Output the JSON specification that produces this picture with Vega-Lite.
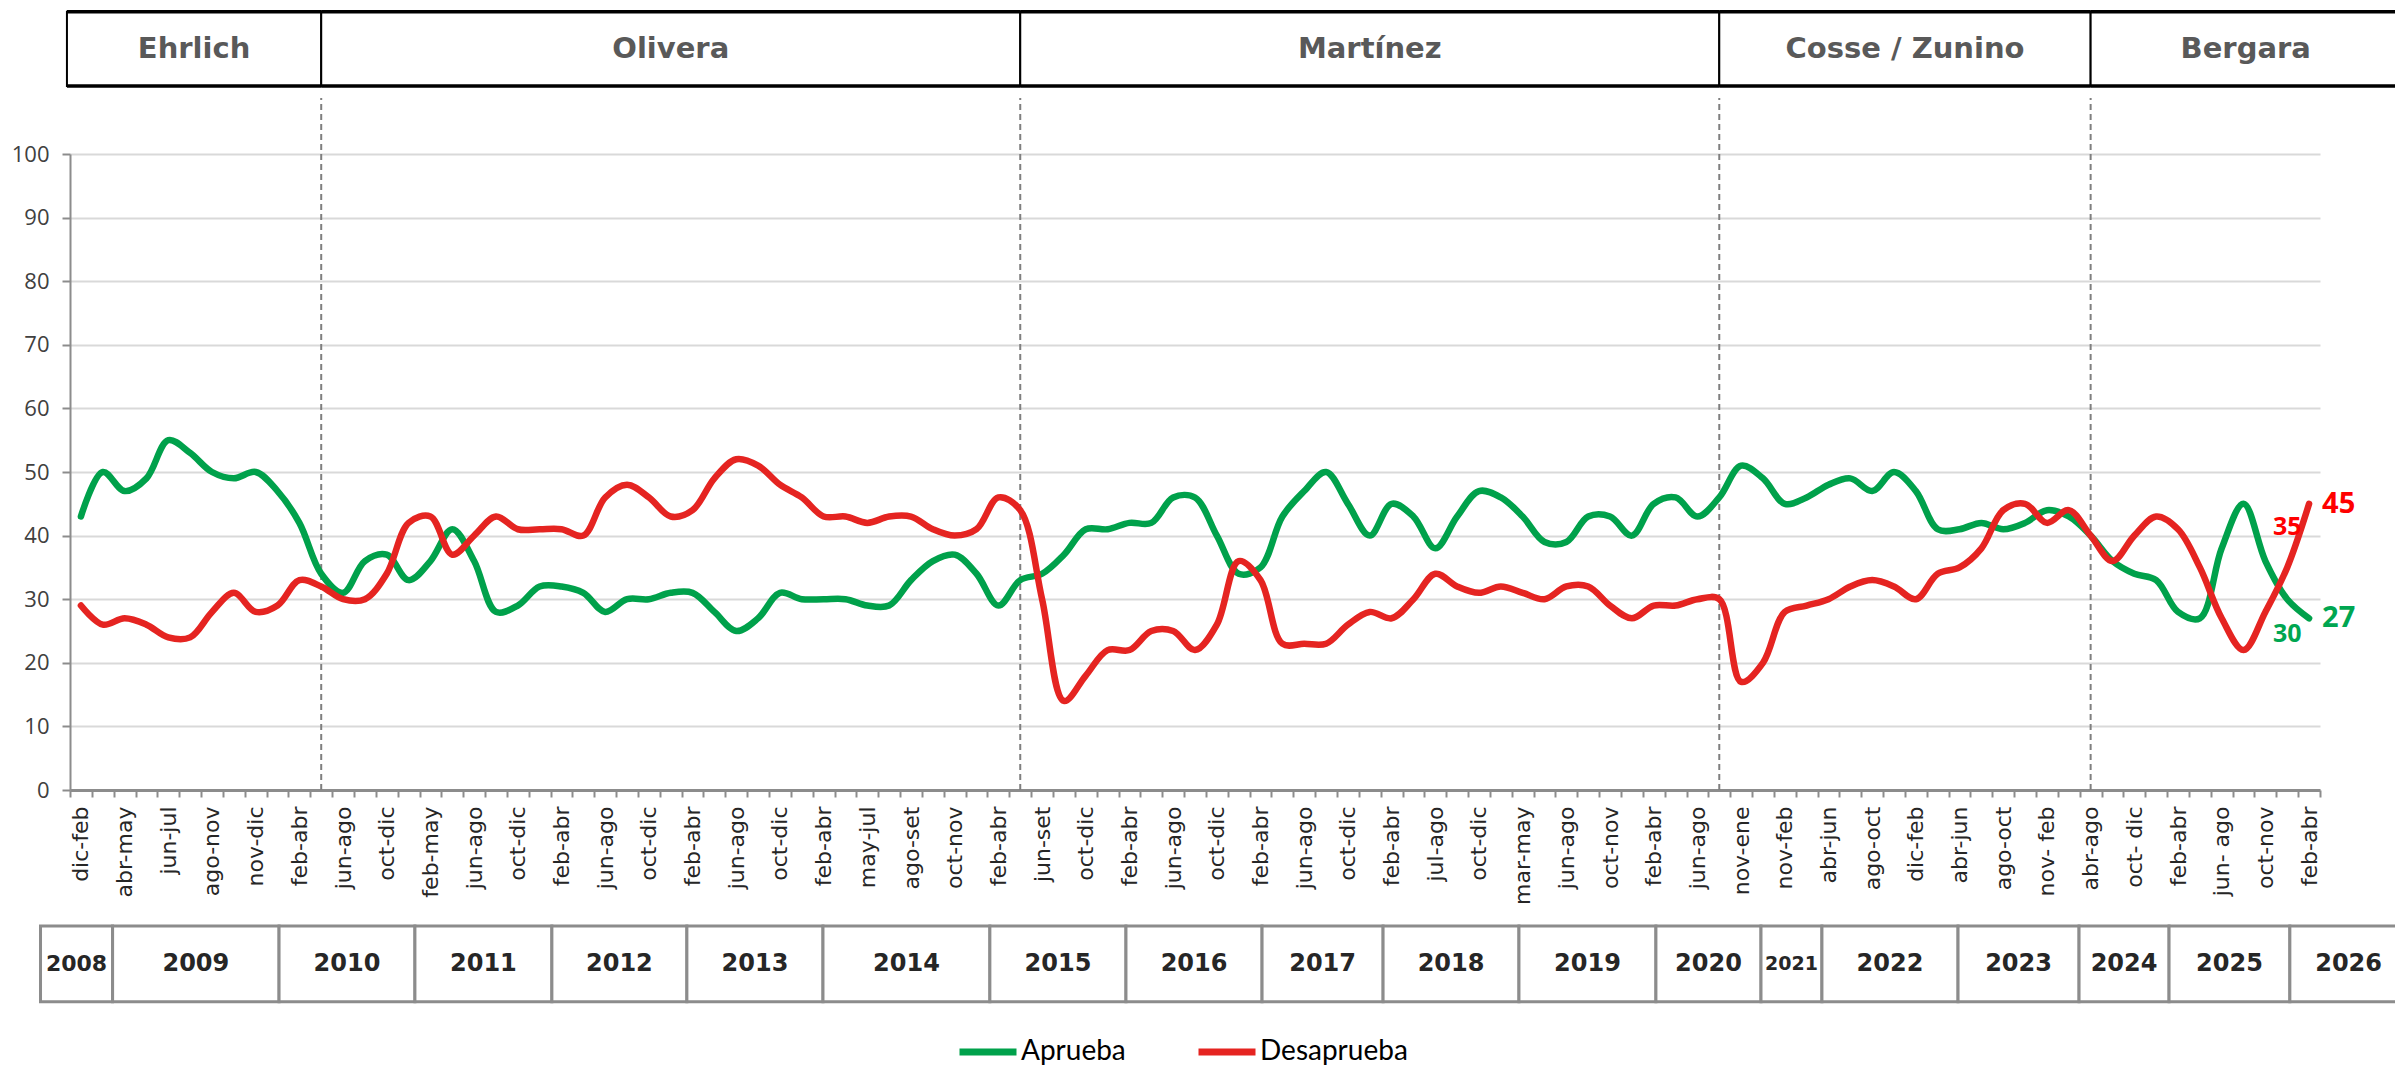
{
  "$schema": "https://vega.github.io/schema/vega-lite/v6.json",
  "autosize": "none",
  "padding": {"left": 70, "top": 154, "right": 75, "bottom": 278},
  "width": 2250,
  "height": 636,
  "background": "white",
  "config": {"view": {"stroke": null}, "font": "Open Sans"},
  "datasets": {
    "sondeo": [
      {"key": "000|dic-feb", "Aprueba": 43, "Desaprueba": 29},
      {"key": "001|", "Aprueba": 50, "Desaprueba": 26},
      {"key": "002|abr-may", "Aprueba": 47, "Desaprueba": 27},
      {"key": "003|", "Aprueba": 49, "Desaprueba": 26},
      {"key": "004|jun-jul", "Aprueba": 55, "Desaprueba": 24},
      {"key": "005|", "Aprueba": 53, "Desaprueba": 24},
      {"key": "006|ago-nov", "Aprueba": 50, "Desaprueba": 28},
      {"key": "007|", "Aprueba": 49, "Desaprueba": 31},
      {"key": "008|nov-dic", "Aprueba": 50, "Desaprueba": 28},
      {"key": "009|", "Aprueba": 47, "Desaprueba": 29},
      {"key": "010|feb-abr", "Aprueba": 42, "Desaprueba": 33},
      {"key": "011|", "Aprueba": 34, "Desaprueba": 32},
      {"key": "012|jun-ago", "Aprueba": 31, "Desaprueba": 30},
      {"key": "013|", "Aprueba": 36, "Desaprueba": 30},
      {"key": "014|oct-dic", "Aprueba": 37, "Desaprueba": 34},
      {"key": "015|", "Aprueba": 33, "Desaprueba": 42},
      {"key": "016|feb-may", "Aprueba": 36, "Desaprueba": 43},
      {"key": "017|", "Aprueba": 41, "Desaprueba": 37},
      {"key": "018|jun-ago", "Aprueba": 36, "Desaprueba": 40},
      {"key": "019|", "Aprueba": 28, "Desaprueba": 43},
      {"key": "020|oct-dic", "Aprueba": 29, "Desaprueba": 41},
      {"key": "021|", "Aprueba": 32, "Desaprueba": 41},
      {"key": "022|feb-abr", "Aprueba": 32, "Desaprueba": 41},
      {"key": "023|", "Aprueba": 31, "Desaprueba": 40},
      {"key": "024|jun-ago", "Aprueba": 28, "Desaprueba": 46},
      {"key": "025|", "Aprueba": 30, "Desaprueba": 48},
      {"key": "026|oct-dic", "Aprueba": 30, "Desaprueba": 46},
      {"key": "027|", "Aprueba": 31, "Desaprueba": 43},
      {"key": "028|feb-abr", "Aprueba": 31, "Desaprueba": 44},
      {"key": "029|", "Aprueba": 28, "Desaprueba": 49},
      {"key": "030|jun-ago", "Aprueba": 25, "Desaprueba": 52},
      {"key": "031|", "Aprueba": 27, "Desaprueba": 51},
      {"key": "032|oct-dic", "Aprueba": 31, "Desaprueba": 48},
      {"key": "033|", "Aprueba": 30, "Desaprueba": 46},
      {"key": "034|feb-abr", "Aprueba": 30, "Desaprueba": 43},
      {"key": "035|", "Aprueba": 30, "Desaprueba": 43},
      {"key": "036|may-jul", "Aprueba": 29, "Desaprueba": 42},
      {"key": "037|", "Aprueba": 29, "Desaprueba": 43},
      {"key": "038|ago-set", "Aprueba": 33, "Desaprueba": 43},
      {"key": "039|", "Aprueba": 36, "Desaprueba": 41},
      {"key": "040|oct-nov", "Aprueba": 37, "Desaprueba": 40},
      {"key": "041|", "Aprueba": 34, "Desaprueba": 41},
      {"key": "042|feb-abr", "Aprueba": 29, "Desaprueba": 46},
      {"key": "043|", "Aprueba": 33, "Desaprueba": 44},
      {"key": "044|jun-set", "Aprueba": 34, "Desaprueba": 30},
      {"key": "045|", "Aprueba": 37, "Desaprueba": 14},
      {"key": "046|oct-dic", "Aprueba": 41, "Desaprueba": 18},
      {"key": "047|", "Aprueba": 41, "Desaprueba": 22},
      {"key": "048|feb-abr", "Aprueba": 42, "Desaprueba": 22},
      {"key": "049|", "Aprueba": 42, "Desaprueba": 25},
      {"key": "050|jun-ago", "Aprueba": 46, "Desaprueba": 25},
      {"key": "051|", "Aprueba": 46, "Desaprueba": 22},
      {"key": "052|oct-dic", "Aprueba": 40, "Desaprueba": 26},
      {"key": "053|", "Aprueba": 34, "Desaprueba": 36},
      {"key": "054|feb-abr", "Aprueba": 35, "Desaprueba": 33},
      {"key": "055|", "Aprueba": 43, "Desaprueba": 23},
      {"key": "056|jun-ago", "Aprueba": 47, "Desaprueba": 23},
      {"key": "057|", "Aprueba": 50, "Desaprueba": 23},
      {"key": "058|oct-dic", "Aprueba": 45, "Desaprueba": 26},
      {"key": "059|", "Aprueba": 40, "Desaprueba": 28},
      {"key": "060|feb-abr", "Aprueba": 45, "Desaprueba": 27},
      {"key": "061|", "Aprueba": 43, "Desaprueba": 30},
      {"key": "062|jul-ago", "Aprueba": 38, "Desaprueba": 34},
      {"key": "063|", "Aprueba": 43, "Desaprueba": 32},
      {"key": "064|oct-dic", "Aprueba": 47, "Desaprueba": 31},
      {"key": "065|", "Aprueba": 46, "Desaprueba": 32},
      {"key": "066|mar-may", "Aprueba": 43, "Desaprueba": 31},
      {"key": "067|", "Aprueba": 39, "Desaprueba": 30},
      {"key": "068|jun-ago", "Aprueba": 39, "Desaprueba": 32},
      {"key": "069|", "Aprueba": 43, "Desaprueba": 32},
      {"key": "070|oct-nov", "Aprueba": 43, "Desaprueba": 29},
      {"key": "071|", "Aprueba": 40, "Desaprueba": 27},
      {"key": "072|feb-abr", "Aprueba": 45, "Desaprueba": 29},
      {"key": "073|", "Aprueba": 46, "Desaprueba": 29},
      {"key": "074|jun-ago", "Aprueba": 43, "Desaprueba": 30},
      {"key": "075|", "Aprueba": 46, "Desaprueba": 30},
      {"key": "076|nov-ene", "Aprueba": 51, "Desaprueba": 17},
      {"key": "077|", "Aprueba": 49, "Desaprueba": 20},
      {"key": "078|nov-feb", "Aprueba": 45, "Desaprueba": 28},
      {"key": "079|", "Aprueba": 46, "Desaprueba": 29},
      {"key": "080|abr-jun", "Aprueba": 48, "Desaprueba": 30},
      {"key": "081|", "Aprueba": 49, "Desaprueba": 32},
      {"key": "082|ago-oct", "Aprueba": 47, "Desaprueba": 33},
      {"key": "083|", "Aprueba": 50, "Desaprueba": 32},
      {"key": "084|dic-feb", "Aprueba": 47, "Desaprueba": 30},
      {"key": "085|", "Aprueba": 41, "Desaprueba": 34},
      {"key": "086|abr-jun", "Aprueba": 41, "Desaprueba": 35},
      {"key": "087|", "Aprueba": 42, "Desaprueba": 38},
      {"key": "088|ago-oct", "Aprueba": 41, "Desaprueba": 44},
      {"key": "089|", "Aprueba": 42, "Desaprueba": 45},
      {"key": "090|nov- feb", "Aprueba": 44, "Desaprueba": 42},
      {"key": "091|", "Aprueba": 43, "Desaprueba": 44},
      {"key": "092|abr-ago", "Aprueba": 40, "Desaprueba": 40},
      {"key": "093|", "Aprueba": 36, "Desaprueba": 36},
      {"key": "094|oct- dic", "Aprueba": 34, "Desaprueba": 40},
      {"key": "095|", "Aprueba": 33, "Desaprueba": 43},
      {"key": "096|feb-abr", "Aprueba": 28, "Desaprueba": 41},
      {"key": "097|", "Aprueba": 27, "Desaprueba": 35},
      {"key": "098|jun- ago", "Aprueba": 38, "Desaprueba": 27},
      {"key": "099|", "Aprueba": 45, "Desaprueba": 22},
      {"key": "100|oct-nov", "Aprueba": 36, "Desaprueba": 28},
      {"key": "101|", "Aprueba": 30, "Desaprueba": 35},
      {"key": "102|feb-abr", "Aprueba": 27, "Desaprueba": 45}
    ],
    "intendentes": [
      {"nombre": "Ehrlich", "inicio": -0.64, "fin": 11},
      {"nombre": "Olivera", "inicio": 11, "fin": 43},
      {"nombre": "Martínez", "inicio": 43, "fin": 75},
      {"nombre": "Cosse / Zunino", "inicio": 75, "fin": 92},
      {"nombre": "Bergara", "inicio": 92, "fin": 106.2}
    ],
    "anios": [
      {"anio": "2008", "inicio": -1.85, "fin": 1.45},
      {"anio": "2009", "inicio": 1.45, "fin": 9.07},
      {"anio": "2010", "inicio": 9.07, "fin": 15.29},
      {"anio": "2011", "inicio": 15.29, "fin": 21.56},
      {"anio": "2012", "inicio": 21.56, "fin": 27.74},
      {"anio": "2013", "inicio": 27.74, "fin": 33.97},
      {"anio": "2014", "inicio": 33.97, "fin": 41.61},
      {"anio": "2015", "inicio": 41.61, "fin": 47.84},
      {"anio": "2016", "inicio": 47.84, "fin": 54.07},
      {"anio": "2017", "inicio": 54.07, "fin": 59.61},
      {"anio": "2018", "inicio": 59.61, "fin": 65.83},
      {"anio": "2019", "inicio": 65.83, "fin": 72.1},
      {"anio": "2020", "inicio": 72.1, "fin": 76.91},
      {"anio": "2021", "inicio": 76.91, "fin": 79.7},
      {"anio": "2022", "inicio": 79.7, "fin": 85.93},
      {"anio": "2023", "inicio": 85.93, "fin": 91.47},
      {"anio": "2024", "inicio": 91.47, "fin": 95.59},
      {"anio": "2025", "inicio": 95.59, "fin": 101.12},
      {"anio": "2026", "inicio": 101.12, "fin": 106.5}
    ]
  },
  "layer": [
    {
      "data": {"name": "intendentes"},
      "transform": [{"calculate": "(datum.inicio + datum.fin) / 2", "as": "centro"}],
      "layer": [
        {
          "mark": {"type": "rect", "fill": "white", "stroke": "black", "strokeWidth": 2},
          "encoding": {
            "x": {"field": "inicio", "type": "quantitative", "scale": {"domain": [-0.5, 102.5], "nice": false, "zero": false}, "axis": null},
            "x2": {"field": "fin"},
            "y": {"datum": 110.69, "type": "quantitative", "scale": {"domain": [0, 100], "nice": false, "zero": false}, "axis": null},
            "y2": {"datum": 122.37}
          }
        },
        {
          "mark": {"type": "rule", "color": "black", "strokeWidth": 3.5},
          "encoding": {
            "x": {"field": "inicio", "type": "quantitative"},
            "x2": {"field": "fin"},
            "y": {"datum": 122.37, "type": "quantitative"}
          }
        },
        {
          "mark": {"type": "rule", "color": "black", "strokeWidth": 3.5},
          "encoding": {
            "x": {"field": "inicio", "type": "quantitative"},
            "x2": {"field": "fin"},
            "y": {"datum": 110.69, "type": "quantitative"}
          }
        },
        {
          "mark": {"type": "text", "font": "DejaVu Sans", "fontWeight": "bold", "fontSize": 29, "color": "#595959", "align": "center", "baseline": "middle"},
          "encoding": {
            "x": {"field": "centro", "type": "quantitative"},
            "y": {"datum": 116.5, "type": "quantitative"},
            "text": {"field": "nombre"}
          }
        },
        {
          "transform": [{"filter": "datum.inicio > 0"}],
          "mark": {"type": "rule", "color": "#7f7f7f", "strokeWidth": 2, "strokeDash": [6, 4]},
          "encoding": {
            "x": {"field": "inicio", "type": "quantitative"},
            "y": {"datum": 0, "type": "quantitative"},
            "y2": {"datum": 108.8}
          }
        }
      ]
    },
    {
      "data": {"name": "anios"},
      "transform": [{"calculate": "(datum.inicio + datum.fin) / 2", "as": "centro"}],
      "layer": [
        {
          "mark": {"type": "rect", "fill": "white", "stroke": "#8c8c8c", "strokeWidth": 3},
          "encoding": {
            "x": {"field": "inicio", "type": "quantitative", "scale": {"domain": [-0.5, 102.5], "nice": false, "zero": false}, "axis": null},
            "x2": {"field": "fin"},
            "y": {"datum": -21.38, "type": "quantitative", "scale": {"domain": [0, 100], "nice": false, "zero": false}, "axis": null},
            "y2": {"datum": -33.29}
          }
        },
        {
          "mark": {"type": "text", "font": "DejaVu Sans", "fontWeight": "bold", "color": "#262626", "align": "center", "baseline": "middle"},
          "encoding": {
            "x": {"field": "centro", "type": "quantitative"},
            "y": {"datum": -27.36, "type": "quantitative"},
            "text": {"field": "anio"},
            "size": {"condition": [{"test": "datum.fin - datum.inicio < 3", "value": 19}, {"test": "datum.fin - datum.inicio < 3.5", "value": 22}], "value": 24}
          }
        }
      ]
    },
    {
      "data": {"name": "sondeo"},
      "transform": [{"fold": ["Aprueba", "Desaprueba"], "as": ["serie", "valor"]}],
      "encoding": {
        "x": {
          "field": "key", "type": "ordinal",
          "scale": {"type": "band", "paddingInner": 0, "paddingOuter": 0},
          "axis": {
            "orient": "bottom",
            "title": null,
            "labelExpr": "split(datum.value, '|')[1]",
            "labelAngle": 270,
            "labelAlign": "right",
            "labelBaseline": "middle",
            "labelFont": "DejaVu Sans",
            "labelFontSize": 22,
            "labelColor": "#262626",
            "labelPadding": 9,
            "labelOverlap": false,
            "labelBound": false,
            "tickBand": "extent",
            "tickSize": 7,
            "tickWidth": 2,
            "tickColor": "#8c8c8c",
            "domainColor": "#8c8c8c",
            "domainWidth": 3,
            "grid": false
          }
        },
        "y": {
          "field": "valor", "type": "quantitative",
          "scale": {"domain": [0, 100], "nice": false, "zero": false},
          "axis": {
            "orient": "left",
            "title": null,
            "values": [0, 10, 20, 30, 40, 50, 60, 70, 80, 90, 100],
            "grid": true,
            "gridColor": "#d9d9d9",
            "gridWidth": 2,
            "domainColor": "#8c8c8c",
            "domainWidth": 2,
            "tickColor": "#8c8c8c",
            "tickWidth": 2,
            "tickSize": 8,
            "labelFont": "Open Sans",
            "labelFontSize": 22,
            "labelColor": "#404040",
            "labelPadding": 13
          }
        }
      },
      "layer": [
        {
          "mark": {"type": "line", "interpolate": "catmull-rom", "strokeWidth": 6.5, "strokeCap": "round", "strokeJoin": "round"},
          "encoding": {
            "color": {
              "field": "serie", "type": "nominal",
              "scale": {"domain": ["Aprueba", "Desaprueba"], "range": ["#00A14B", "#E52421"]},
              "legend": {
                "title": null,
                "orient": "none",
                "legendX": 886,
                "legendY": 866,
                "direction": "horizontal",
                "symbolType": "stroke",
                "symbolSize": 3249,
                "symbolStrokeWidth": 7,
                "labelFont": "Lato",
                "labelFontSize": 28,
                "labelColor": "black",
                "labelOffset": 1,
                "columnPadding": 58,
                "padding": 0
              }
            }
          }
        },
        {
          "transform": [{"filter": "datum.key == '102|feb-abr'"}],
          "mark": {"type": "text", "align": "left", "baseline": "middle", "dx": 13, "font": "Open Sans", "fontWeight": "bold", "fontSize": 29},
          "encoding": {
            "text": {"field": "valor", "type": "quantitative"},
            "color": {"condition": {"test": "datum.serie == 'Aprueba'", "value": "#00A651"}, "value": "#FF0000"}
          }
        },
        {
          "transform": [{"filter": "datum.key == '101|' && datum.serie == 'Desaprueba'"}],
          "mark": {"type": "text", "align": "center", "baseline": "middle", "dy": -40, "font": "Open Sans", "fontWeight": "bold", "fontSize": 25, "color": "#FF0000"},
          "encoding": {"text": {"field": "valor", "type": "quantitative"}}
        },
        {
          "transform": [{"filter": "datum.key == '101|' && datum.serie == 'Aprueba'"}],
          "mark": {"type": "text", "align": "center", "baseline": "middle", "dy": 35, "font": "Open Sans", "fontWeight": "bold", "fontSize": 25, "color": "#00A651"},
          "encoding": {"text": {"field": "valor", "type": "quantitative"}}
        }
      ]
    }
  ],
  "resolve": {"scale": {"x": "independent", "y": "independent"}, "axis": {"x": "independent", "y": "independent"}}
}
